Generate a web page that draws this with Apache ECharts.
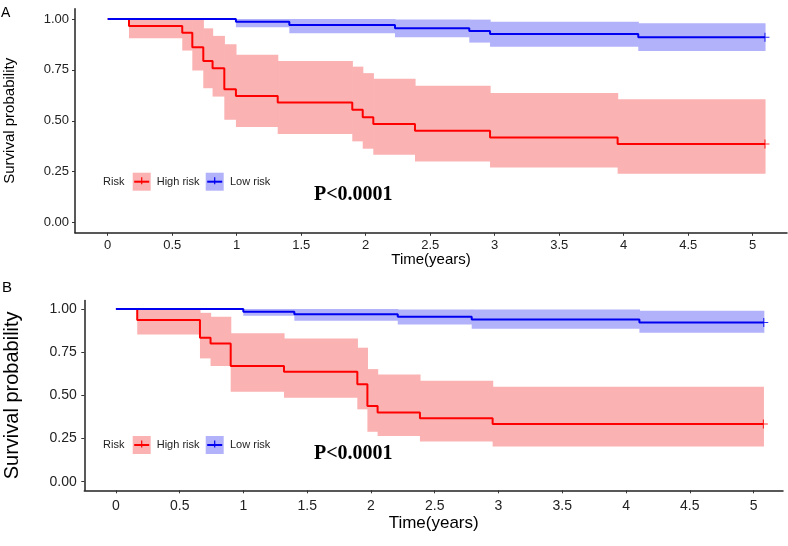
<!DOCTYPE html>
<html><head><meta charset="utf-8">
<script src="https://cdn.jsdelivr.net/npm/echarts@6/dist/echarts.min.js"></script>
<style>html,body{margin:0;padding:0;background:#fff}#c{width:788px;height:546px}</style>
</head><body><div id="c"></div>
<script>
// ---- tick labels ----
const xTicks = [0, 0.5, 1, 1.5, 2, 2.5, 3, 3.5, 4, 4.5, 5];
const xTickLabels = ['0', '0.5', '1', '1.5', '2', '2.5', '3', '3.5', '4', '4.5', '5'];
const yTicks = [0, 0.25, 0.5, 0.75, 1];
const yTickLabels = ['0.00', '0.25', '0.50', '0.75', '1.00'];
const groups = ['High risk', 'Low risk'];

// ---- Panel A: High risk ----
const timeA_high  = [0, 0.165, 0.578, 0.656, 0.741, 0.813, 0.904, 0.994, 1.318, 1.896, 1.977, 2.059, 2.382, 2.964, 3.953, 5.095];
const survA_high  = [1, 0.966, 0.933, 0.861, 0.794, 0.758, 0.655, 0.622, 0.590, 0.554, 0.518, 0.484, 0.451, 0.418, 0.386, 0.386];
const upperA_high = [1, 1.000, 1.000, 1.000, 0.954, 0.917, 0.876, 0.824, 0.794, 0.766, 0.734, 0.706, 0.672, 0.636, 0.606, 0.606];
const lowerA_high = [1, 0.905, 0.845, 0.747, 0.660, 0.619, 0.505, 0.469, 0.435, 0.399, 0.363, 0.333, 0.300, 0.271, 0.240, 0.240];
// ---- Panel A: Low risk ----
const timeA_low  = [0, 0.994, 1.408, 2.227, 2.803, 2.964, 4.113, 5.095];
const survA_low  = [1, 0.987, 0.971, 0.954, 0.941, 0.926, 0.910, 0.910];
const upperA_low = [1, 1.000, 1.000, 0.997, 0.997, 0.987, 0.979, 0.979];
const lowerA_low = [1, 0.959, 0.930, 0.910, 0.884, 0.864, 0.843, 0.843];

// ---- Panel B: High risk ----
const timeB_high  = [0, 0.167, 0.659, 0.742, 0.900, 1.318, 1.893, 1.972, 2.052, 2.384, 2.954, 5.077];
const survB_high  = [1, 0.936, 0.833, 0.801, 0.670, 0.637, 0.565, 0.438, 0.401, 0.367, 0.334, 0.334];
const upperB_high = [1, 1.000, 0.978, 0.955, 0.859, 0.830, 0.776, 0.652, 0.621, 0.585, 0.550, 0.550];
const lowerB_high = [1, 0.853, 0.714, 0.670, 0.521, 0.486, 0.419, 0.289, 0.264, 0.232, 0.203, 0.203];
// ---- Panel B: Low risk ----
const timeB_low  = [0, 0.999, 1.399, 2.210, 2.790, 4.105, 5.080];
const survB_low  = [1, 0.984, 0.970, 0.955, 0.940, 0.922, 0.922];
const upperB_low = [1, 1.000, 1.000, 0.998, 0.998, 0.990, 0.990];
const lowerB_low = [1, 0.961, 0.932, 0.911, 0.886, 0.862, 0.862];

const pText = 'P<0.0001';

// ---- styles ----
const RED = '#FF0000', BLUE = '#0000F0';
const PINK = 'rgb(250,178,178)', LBLUE = 'rgb(178,178,250)';
const SANS = 'Liberation Sans, Arial, sans-serif';
const SERIF = 'Liberation Serif, Times New Roman, serif';
const PLUS = 'path://M-0.6,-5 H0.6 V-0.6 H5 V0.6 H0.6 V5 H-0.6 V0.6 H-5 V-0.6 H-0.6 Z';

function bandData(t, lo, hi) {
  const d = [];
  for (let i = 0; i < t.length - 1; i++) d.push([t[i], t[i + 1], lo[i], hi[i]]);
  return d;
}
function bandRender(color) {
  return function (params, api) {
    const p0 = api.coord([api.value(0), api.value(3)]);
    const p1 = api.coord([api.value(1), api.value(2)]);
    return { type: 'rect', shape: { x: p0[0], y: p0[1], width: p1[0] - p0[0] + 0.6, height: p1[1] - p0[1] },
      style: { fill: color } };
  };
}
function bandSeries(idx, t, lo, hi, color) {
  return { type: 'custom', xAxisIndex: idx, yAxisIndex: idx, renderItem: bandRender(color),
    encode: { x: [0, 1], y: [2, 3] }, data: bandData(t, lo, hi), silent: true, z: 1 };
}
function lineSeries(idx, t, s, color) {
  return { type: 'line', xAxisIndex: idx, yAxisIndex: idx, step: 'end', showSymbol: false,
    data: t.map((x, i) => [x, s[i]]), lineStyle: { color: color, width: 2 }, itemStyle: { color: color },
    silent: true, z: 3 };
}
function censorSeries(idx, t, s, color) {
  const n = t.length - 1;
  return { type: 'scatter', xAxisIndex: idx, yAxisIndex: idx, symbol: PLUS, symbolSize: 9,
    data: [[t[n], s[n]]], itemStyle: { color: color }, silent: true, z: 4 };
}

function xAxisCfg(idx, min, max, fs, nameFs, nameGap, margin) {
  return { type: 'value', gridIndex: idx, min: min, max: max,
    name: 'Time(years)', nameLocation: 'middle', nameGap: nameGap,
    nameTextStyle: { color: '#000', fontSize: nameFs, fontFamily: SANS },
    axisLine: { show: true, onZero: false, lineStyle: { color: '#222', width: 1.5 } },
    axisTick: { show: true, length: 3, customValues: xTicks, lineStyle: { color: '#333', width: 1 } },
    axisLabel: { customValues: xTicks, margin: margin, color: '#222', fontSize: fs, fontFamily: SANS,
      formatter: v => xTickLabels[xTicks.indexOf(v)] },
    splitLine: { show: false } };
}
function yAxisCfg(idx, fs, nameFs, nameGap, margin) {
  return { type: 'value', gridIndex: idx, min: -0.05, max: 1.05,
    name: 'Survival probability', nameLocation: 'middle', nameGap: nameGap,
    nameTextStyle: { color: '#000', fontSize: nameFs, fontFamily: SANS },
    axisLine: { show: true, onZero: false, lineStyle: { color: '#222', width: 1.5 } },
    axisTick: { show: true, length: 3, customValues: yTicks, lineStyle: { color: '#333', width: 1 } },
    axisLabel: { customValues: yTicks, margin: margin, color: '#222', fontSize: fs, fontFamily: SANS,
      formatter: v => yTickLabels[yTicks.indexOf(v)] },
    splitLine: { show: false } };
}

function legendEls(cy, fs) {
  const els = [];
  els.push({ type: 'text', x: 103, y: cy, style: { text: 'Risk', fontSize: fs, fontFamily: SANS, fill: '#222', verticalAlign: 'middle' } });
  const keys = [[132.7, PINK, RED, groups[0], 156.7], [205.7, LBLUE, BLUE, groups[1], 230]];
  keys.forEach(k => {
    els.push({ type: 'rect', shape: { x: k[0], y: cy - 9, width: 18, height: 18 }, style: { fill: k[1] } });
    els.push({ type: 'line', shape: { x1: k[0] + 1.5, y1: cy, x2: k[0] + 16.5, y2: cy }, style: { stroke: k[2], lineWidth: 2 } });
    els.push({ type: 'line', shape: { x1: k[0] + 9, y1: cy - 4.5, x2: k[0] + 9, y2: cy + 2.5 }, style: { stroke: k[2], lineWidth: 1.2 } });
    els.push({ type: 'text', x: k[4], y: cy, style: { text: k[3], fontSize: fs, fontFamily: SANS, fill: '#222', verticalAlign: 'middle' } });
  });
  return els;
}

const chart = echarts.init(document.getElementById('c'), null, { renderer: 'canvas' });
chart.setOption({
  animation: false,
  backgroundColor: '#fff',
  grid: [
    { left: 75, top: 8.8, width: 712, height: 224, containLabel: false, outerBoundsMode: 'none' },
    { left: 84.3, top: 300.4, width: 698.7, height: 189.9, containLabel: false, outerBoundsMode: 'none' }
  ],
  xAxis: [
    xAxisCfg(0, -0.2535, 5.266, 13, 15, 18, 6),
    xAxisCfg(1, -0.248, 5.231, 14, 17, 25, 9)
  ],
  yAxis: [
    yAxisCfg(0, 13, 15, 58, 6),
    yAxisCfg(1, 14, 20, 62, 7.5)
  ],
  series: [
    bandSeries(0, timeA_high, lowerA_high, upperA_high, PINK),
    bandSeries(0, timeA_low, lowerA_low, upperA_low, LBLUE),
    lineSeries(0, timeA_high, survA_high, RED),
    lineSeries(0, timeA_low, survA_low, BLUE),
    censorSeries(0, timeA_high, survA_high, RED),
    censorSeries(0, timeA_low, survA_low, BLUE),
    bandSeries(1, timeB_high, lowerB_high, upperB_high, PINK),
    bandSeries(1, timeB_low, lowerB_low, upperB_low, LBLUE),
    lineSeries(1, timeB_high, survB_high, RED),
    lineSeries(1, timeB_low, survB_low, BLUE),
    censorSeries(1, timeB_high, survB_high, RED),
    censorSeries(1, timeB_low, survB_low, BLUE)
  ],
  graphic: [
    { type: 'text', x: 1, y: 13, style: { text: 'A', fontSize: 14, fontFamily: SANS, fill: '#000', verticalAlign: 'middle' } },
    { type: 'text', x: 2, y: 287.5, style: { text: 'B', fontSize: 15, fontFamily: SANS, fill: '#000', verticalAlign: 'middle' } },
    { type: 'text', x: 314, y: 195, style: { text: pText, fontSize: 20, fontWeight: 'bold', fontFamily: SERIF, fill: '#000', verticalAlign: 'middle' } },
    { type: 'text', x: 314, y: 454, style: { text: pText, fontSize: 20, fontWeight: 'bold', fontFamily: SERIF, fill: '#000', verticalAlign: 'middle' } }
  ].concat(legendEls(181.7, 11)).concat(legendEls(445, 11))
});
</script>
</body></html>
